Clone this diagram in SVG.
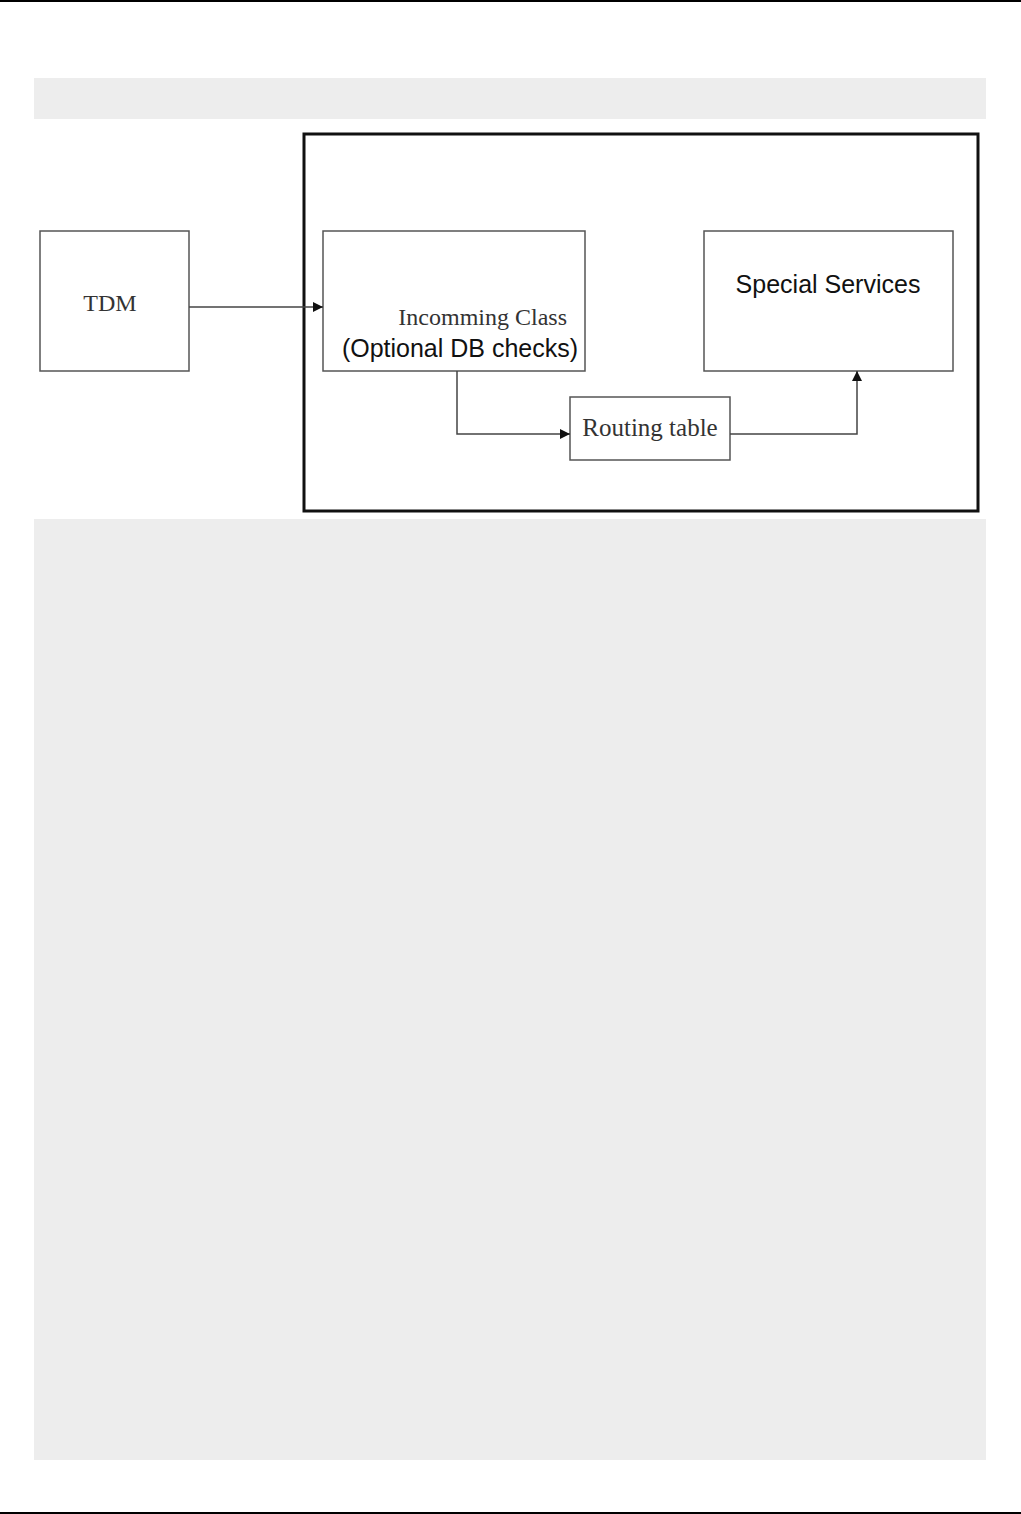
<svg xmlns="http://www.w3.org/2000/svg" width="1021" height="1514" viewBox="0 0 1021 1514">
<style>
.box{fill:#fff;stroke:#555;stroke-width:1.5}
.ser{font-family:"Liberation Serif",serif;fill:#333}
.san{font-family:"Liberation Sans",Arial,sans-serif;fill:#111}
.con{fill:none;stroke:#444;stroke-width:1.5}
</style>
<defs>
<marker id="ah" viewBox="0 0 10 10" refX="10" refY="5" markerWidth="10" markerHeight="10" markerUnits="userSpaceOnUse" orient="auto"><path d="M0,0 L10,5 L0,10 z" fill="#111"/></marker>
</defs>
<rect width="1021" height="1514" fill="#fff"/>
<line x1="0" y1="1" x2="1021" y2="1" stroke="#000" stroke-width="2"/>
<line x1="0" y1="1513" x2="1021" y2="1513" stroke="#000" stroke-width="2"/>
<rect x="34" y="78" width="952" height="41" fill="#ededed"/>
<rect x="34" y="519" width="952" height="941" fill="#ededed"/>
<rect id="container" x="304" y="134" width="674" height="377" fill="#fff" stroke="#111" stroke-width="3"/>
<g id="tdm"><rect class="box" x="40" y="231" width="149" height="140"/><text class="ser" x="110" y="311" font-size="24" text-anchor="middle">TDM</text></g>
<g id="incoming"><rect class="box" x="323" y="231" width="262" height="140"/><text class="ser" x="567" y="325" font-size="24" text-anchor="end">Incomming Class</text><text class="san" x="460" y="357" font-size="25" text-anchor="middle">(Optional DB checks)</text></g>
<g id="special"><rect class="box" x="704" y="231" width="249" height="140"/><text class="san" x="828" y="293" font-size="25" text-anchor="middle">Special Services</text></g>
<g id="routing"><rect class="box" x="570" y="397" width="160" height="63"/><text class="ser" x="650" y="436" font-size="25" text-anchor="middle">Routing table</text></g>
<g id="connectors">
<path class="con" d="M189,307 H323" marker-end="url(#ah)"/>
<path class="con" d="M457,371 V434 H570" marker-end="url(#ah)"/>
<path class="con" d="M730,434 H857 V371" marker-end="url(#ah)"/>
</g>
</svg>
